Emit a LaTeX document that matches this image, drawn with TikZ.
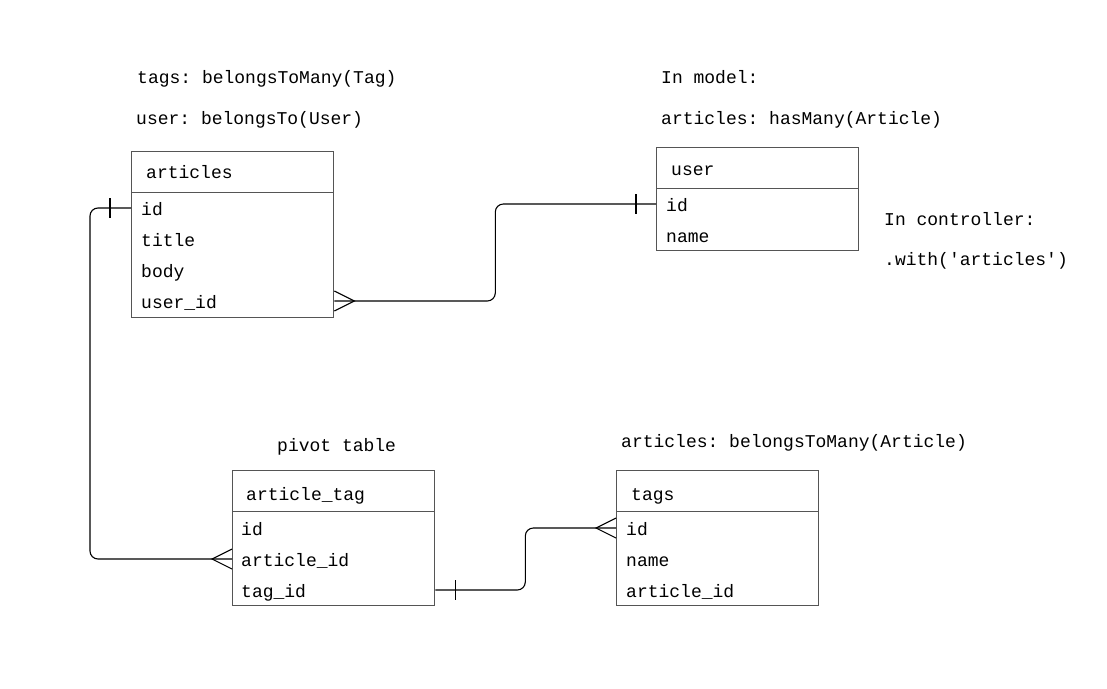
\documentclass[tikz,border=0pt]{standalone}
\usepackage{fontspec}
\setmonofont{Liberation Mono}
\definecolor{boxgray}{HTML}{555555}
\begin{document}
\begin{tikzpicture}[x=1pt,y=-1pt,
  every node/.style={font=\ttfamily\fontsize{18}{20}\selectfont, inner sep=0pt, text=black},
  tbl/.style={draw=boxgray, line width=1.3pt, minimum width=202pt, anchor=north west, inner sep=0pt},
  field/.style={anchor=base west, text height=14pt, text depth=0pt},
  lbl/.style={anchor=base west},
  conn/.style={draw=black, line width=1.1pt, rounded corners=8pt},
  endmark/.style={draw=black, line width=1.1pt}
]
\useasboundingbox[fill=white] (0,0) rectangle (1107,688);

% ---------- articles ----------
\node[tbl, minimum height=41pt] (arth) at (131,151) {};
\node[tbl, minimum height=125pt] (artb) at (131,192) {};
\node[field] (artt) at (146,178) {articles};
\node[field] (aid) at (141,215) {id};
\node[field] (atitle) at (141,246) {title};
\node[field] (abody) at (141,277) {body};
\node[field] (auid) at (141,308) {user\_id};

% ---------- user ----------
\node[tbl, minimum height=41pt] (userh) at (656,147) {};
\node[tbl, minimum height=62pt] (userb) at (656,188) {};
\node[field] (usert) at (671,175) {user};
\node[field] (uid) at (666,211) {id};
\node[field] (uname) at (666,242) {name};

% ---------- article_tag ----------
\node[tbl, minimum height=41pt] (ath) at (232,470) {};
\node[tbl, minimum height=94pt] (atb) at (232,511) {};
\node[field] (att) at (246,500) {article\_tag};
\node[field] (atid) at (241,535) {id};
\node[field] (ataid) at (241,566) {article\_id};
\node[field] (attid) at (241,597) {tag\_id};

% ---------- tags ----------
\node[tbl, minimum height=41pt] (tagh) at (616,470) {};
\node[tbl, minimum height=94pt] (tagb) at (616,511) {};
\node[field] (tagt) at (631,500) {tags};
\node[field] (tid) at (626,535) {id};
\node[field] (tname) at (626,566) {name};
\node[field] (taid) at (626,597) {article\_id};

% ---------- labels ----------
\node[lbl] (l1) at (137,83) {tags: belongsToMany(Tag)};
\node[lbl] (l2) at (136,124) {user: belongsTo(User)};
\node[lbl] (l3) at (661,83) {In model:};
\node[lbl] (l4) at (661,124) {articles: hasMany(Article)};
\node[lbl] (l5) at (884,225) {In controller:};
\node[lbl] (l6) at (884,265) {.with('articles')};
\node[lbl] (l7) at (277,451) {pivot table};
\node[lbl] (l8) at (621,447) {articles: belongsToMany(Article)};

% ---------- connectors ----------
% articles.id  ->  article_tag.article_id
\coordinate (c1a) at (artb.west |- aid.west);
\coordinate (c1b) at (atb.west |- ataid.west);
\draw[conn] (c1a) -- ++(-41,0) |- (c1b);
\draw[endmark] (c1a) ++(-21,-10) -- ++(0,20);
\draw[endmark] (c1b) ++(0,-10) -- ++(-20,10) -- ++(20,10);

% articles.user_id  ->  user.id
\coordinate (c2a) at (artb.east |- auid.west);
\coordinate (c2b) at (userb.west |- uid.west);
\draw[conn] (c2a) -- ++(161,0) |- (c2b);
\draw[endmark] (c2a) ++(0,-10) -- ++(20,10) -- ++(-20,10);
\draw[endmark] (c2b) ++(-20,-10) -- ++(0,20);

% article_tag.tag_id  ->  tags.id
\coordinate (c3a) at (atb.east |- attid.west);
\coordinate (c3b) at (tagb.west |- tid.west);
\draw[conn] (c3a) -- ++(90,0) |- (c3b);
\draw[endmark] (c3a) ++(20,-10) -- ++(0,20);
\draw[endmark] (c3b) ++(0,-10) -- ++(-20,10) -- ++(20,10);
\end{tikzpicture}
\end{document}
